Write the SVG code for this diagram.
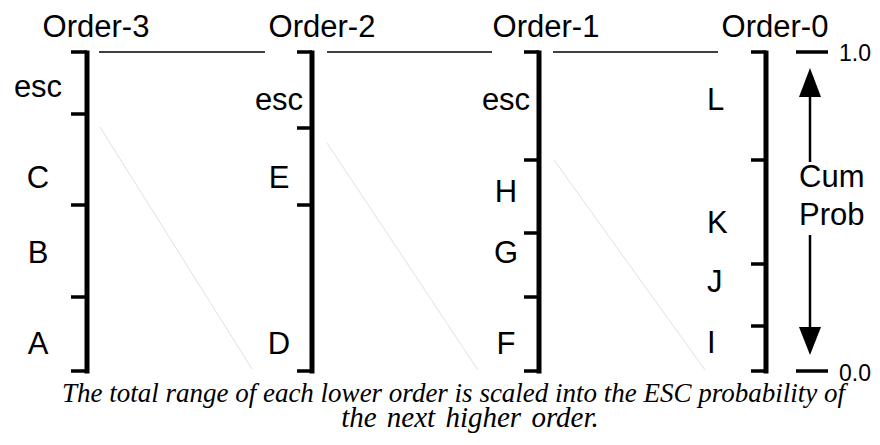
<svg xmlns="http://www.w3.org/2000/svg" width="880" height="445" viewBox="0 0 880 445">
<defs>
<style>
.bar{stroke:#000;stroke-width:5;fill:none}
.tick{stroke:#000;stroke-width:3.5;fill:none}
.top{stroke:#000;stroke-width:1.5;fill:none}
.map{stroke:#e0e0e0;stroke-width:1;fill:none}
.lbl{font-family:"Liberation Sans",Arial,sans-serif;font-size:31px;fill:#000}
.mid{text-anchor:middle}
.num{font-family:"Liberation Sans",Arial,sans-serif;font-size:23px;fill:#000}
.cap{font-family:"Liberation Serif","Times New Roman",serif;font-style:italic;font-size:27px;fill:#000;text-anchor:middle}
.arr{stroke:#000;stroke-width:2.5;fill:none}
</style>
</defs>
<rect width="880" height="445" fill="#fff"/>
<g id="connectors">
<line class="top" x1="99" y1="52" x2="265" y2="52"/>
<line class="top" x1="327" y1="52" x2="492" y2="52"/>
<line class="top" x1="553" y1="52" x2="718" y2="52"/>
<line class="map" x1="100" y1="127" x2="252" y2="369"/>
<line class="map" x1="327" y1="143" x2="478" y2="370"/>
<line class="map" x1="554" y1="160" x2="705" y2="370"/>
</g>
<g id="order3">
<text class="lbl mid" x="96" y="37">Order-3</text>
<line class="bar" x1="87" y1="50.5" x2="87" y2="373.5"/>
<path class="tick" d="M71 52H87M71 114H87M71 205H87M71 297H87M71 371H87"/>
<text class="lbl mid" x="38" y="97">esc</text>
<text class="lbl mid" x="38" y="188">C</text>
<text class="lbl mid" x="38" y="263">B</text>
<text class="lbl mid" x="38" y="354">A</text>
</g>
<g id="order2">
<text class="lbl mid" x="322" y="37">Order-2</text>
<line class="bar" x1="312" y1="50.5" x2="312" y2="373.5"/>
<path class="tick" d="M297 52H312M297 128H312M297 205H312M297 371H312"/>
<text class="lbl mid" x="279" y="110">esc</text>
<text class="lbl mid" x="279" y="188">E</text>
<text class="lbl mid" x="279" y="354">D</text>
</g>
<g id="order1">
<text class="lbl mid" x="546" y="37">Order-1</text>
<line class="bar" x1="539" y1="50.5" x2="539" y2="373.5"/>
<path class="tick" d="M524 52H539M524 160H539M524 233H539M524 297H539M524 371H539"/>
<text class="lbl mid" x="506" y="110">esc</text>
<text class="lbl mid" x="506" y="202">H</text>
<text class="lbl mid" x="506" y="263">G</text>
<text class="lbl mid" x="506" y="354">F</text>
</g>
<g id="order0">
<text class="lbl mid" x="775" y="37">Order-0</text>
<line class="bar" x1="766" y1="50.5" x2="766" y2="373.5"/>
<path class="tick" d="M751 52H766M751 160H766M751 264H766M751 326H766M751 371H766"/>
<text class="lbl" x="707" y="110">L</text>
<text class="lbl" x="707" y="233">K</text>
<text class="lbl" x="707" y="292">J</text>
<text class="lbl" x="707" y="353">I</text>
</g>
<g id="scale">
<line class="tick" x1="796" y1="52" x2="828" y2="52"/>
<line class="tick" x1="796" y1="371" x2="828" y2="371"/>
<text class="num" x="839" y="61">1.0</text>
<text class="num" x="839" y="381">0.0</text>
<line class="arr" x1="810" y1="162" x2="810" y2="96"/>
<polygon points="810,68 799,97 821,97" fill="#000"/>
<line class="arr" x1="810" y1="235" x2="810" y2="328"/>
<polygon points="810,355 799,327 821,327" fill="#000"/>
<text class="lbl" x="799" y="187">Cum</text>
<text class="lbl" x="799" y="225">Prob</text>
</g>
<g id="caption">
<text class="cap" x="453.5" y="402">The total range of each lower order is scaled into the ESC probability of</text>
<text class="cap" x="470" y="427" style="font-size:29px;word-spacing:3px">the next higher order.</text>
</g>
</svg>
